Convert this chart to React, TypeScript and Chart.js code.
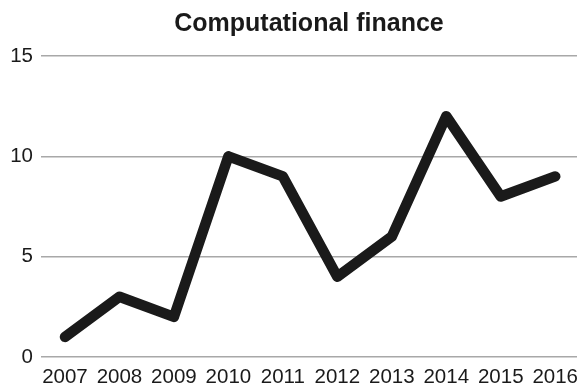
import React, { useEffect, useRef } from "react";
import { Chart, registerables } from "chart.js";

Chart.register(...registerables);

const categories = ["2007", "2008", "2009", "2010", "2011", "2012", "2013", "2014", "2015", "2016"];
const values = [1, 3, 2, 10, 9, 4, 6, 12, 8, 9];
const yTicks = [0, 5, 10, 15];
const title = "Computational finance";

export default function App() {
  const ref = useRef<HTMLCanvasElement | null>(null);

  useEffect(() => {
    document.body.style.margin = "0";
    const canvas = ref.current;
    if (!canvas) return;
    const chart = new Chart(canvas, {
      type: "line",
      data: {
        datasets: [
          {
            data: values.map((v, i) => ({ x: i, y: v })),
            borderColor: "#1a1a1a",
            borderWidth: 10.5,
            borderCapStyle: "round",
            borderJoinStyle: "round",
            pointRadius: 0,
            tension: 0,
            fill: false,
          },
        ],
      },
      options: {
        animation: false,
        responsive: false,
        devicePixelRatio: 1,
        layout: { padding: { left: 0, right: 10, top: 0, bottom: 0 } },
        plugins: {
          legend: { display: false },
          tooltip: { enabled: false },
          title: {
            display: true,
            text: title,
            fullSize: false,
            color: "#1a1a1a",
            font: { family: "'Liberation Sans', Arial, sans-serif", size: 25, weight: "bold" },
            padding: { top: 9, bottom: 17 },
          },
        },
        scales: {
          x: {
            type: "linear",
            min: -0.44,
            max: categories.length - 1 + 0.4,
            afterBuildTicks: (scale: any) => {
              scale.ticks = categories.map((_, i) => ({ value: i }));
            },
            afterFit: (scale: any) => {
              scale.height = 31;
            },
            ticks: {
              autoSkip: false,
              maxRotation: 0,
              padding: 8,
              color: "#1a1a1a",
              font: { family: "'Liberation Sans', Arial, sans-serif", size: 20.5 },
              callback: (v: any) => categories[Number(v)] ?? "",
            },
            grid: { display: false, drawTicks: false },
            border: { display: false },
          },
          y: {
            min: 0,
            max: 15,
            afterBuildTicks: (scale: any) => {
              scale.ticks = yTicks.map((v) => ({ value: v }));
            },
            afterFit: (scale: any) => {
              scale.width = 41;
            },
            ticks: {
              padding: 8,
              color: "#1a1a1a",
              font: { family: "'Liberation Sans', Arial, sans-serif", size: 20.5 },
            },
            grid: { color: "#a8a8a8", lineWidth: 1.5, drawTicks: false },
            border: { display: false },
          },
        },
      },
    });
    return () => chart.destroy();
  }, []);

  return (
    <div style={{ width: 587, height: 388, background: "#fff" }}>
      <canvas ref={ref} width={587} height={388} style={{ display: "block" }} />
    </div>
  );
}
